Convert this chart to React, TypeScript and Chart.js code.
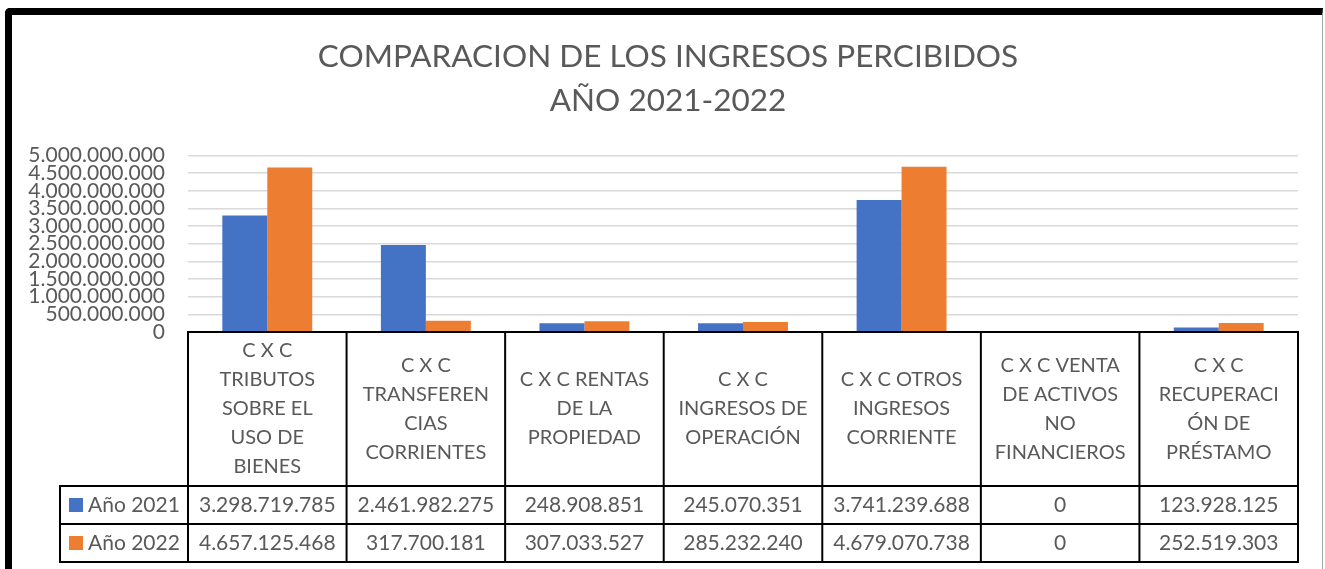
import React, { useEffect, useRef } from 'react';
import { Chart, registerables } from 'chart.js';

Chart.register(...registerables);

const titleLines: string[] = ['COMPARACION DE LOS INGRESOS PERCIBIDOS', 'AÑO 2021-2022'];

const categoryLines: string[][] = [
  ['C X C', 'TRIBUTOS', 'SOBRE EL', 'USO DE', 'BIENES'],
  ['C X C', 'TRANSFEREN', 'CIAS', 'CORRIENTES'],
  ['C X C RENTAS', 'DE LA', 'PROPIEDAD'],
  ['C X C', 'INGRESOS DE', 'OPERACIÓN'],
  ['C X C OTROS', 'INGRESOS', 'CORRIENTE'],
  ['C X C VENTA', 'DE ACTIVOS', 'NO', 'FINANCIEROS'],
  ['C X C', 'RECUPERACI', 'ÓN DE', 'PRÉSTAMO'],
];

const seriesLabels: string[] = ['Año 2021', 'Año 2022'];
const values2021: number[] = [3298719785, 2461982275, 248908851, 245070351, 3741239688, 0, 123928125];
const values2022: number[] = [4657125468, 317700181, 307033527, 285232240, 4679070738, 0, 252519303];
const seriesColors: string[] = ['#4472C4', '#ED7D31'];

const yMin = 0;
const yMax = 5000000000;
const yStep = 500000000;

const TEXT = '#595959';
const FONT = 'Lato, Carlito, Calibri, "Open Sans", sans-serif';

const fmt = (v: number): string => String(Math.round(v)).replace(/\B(?=(\d{3})+(?!\d))/g, '.');

const tablePlugin = {
  id: 'dataTable',
  afterDraw(chart: any) {
    const { ctx, chartArea } = chart;
    const xs = chart.scales.x;
    const n = categoryLines.length;
    const colW = (chartArea.right - chartArea.left) / n;
    const top = chartArea.bottom;
    const headerH = 154;
    const rowH = 38;
    const legendLeft = 60;
    const r1 = top + headerH;
    const r2 = r1 + rowH;
    const r3 = r2 + rowH;

    const line = (x1: number, y1: number, x2: number, y2: number) => {
      ctx.beginPath();
      ctx.moveTo(x1, y1);
      ctx.lineTo(x2, y2);
      ctx.stroke();
    };

    ctx.save();
    ctx.strokeStyle = '#000000';
    ctx.lineWidth = 2;
    ctx.lineCap = 'square';
    line(chartArea.left, top, chartArea.right, top);
    [r1, r2, r3].forEach((y) => line(legendLeft, y, chartArea.right, y));
    for (let i = 0; i <= n; i++) {
      const cx = chartArea.left + i * colW;
      line(cx, top, cx, r3);
    }
    line(legendLeft, r1, legendLeft, r3);

    ctx.fillStyle = TEXT;
    ctx.font = `20px ${FONT}`;
    ctx.textAlign = 'center';
    ctx.textBaseline = 'middle';
    const lh = 29;
    categoryLines.forEach((lines, i) => {
      const cx = xs.getPixelForValue(i);
      const startY = top + headerH / 2 - ((lines.length - 1) * lh) / 2;
      lines.forEach((t, j) => ctx.fillText(t, cx, startY + j * lh));
    });

    ctx.font = `21px ${FONT}`;
    chart.data.datasets.forEach((ds: any, k: number) => {
      const cy = r1 + rowH * k + rowH / 2;
      ctx.textAlign = 'center';
      ctx.fillStyle = TEXT;
      (ds.data as number[]).forEach((v, i) => ctx.fillText(fmt(v), xs.getPixelForValue(i), cy));
      ctx.fillStyle = ds.backgroundColor;
      ctx.fillRect(legendLeft + 9, cy - 7, 14, 14);
      ctx.fillStyle = TEXT;
      ctx.textAlign = 'left';
      ctx.fillText(ds.label, legendLeft + 28, cy);
    });
    ctx.restore();
  },
};

export default function App() {
  const canvasRef = useRef<HTMLCanvasElement | null>(null);

  useEffect(() => {
    document.body.style.margin = '0';
    const canvas = canvasRef.current;
    if (!canvas) return;
    const chart = new Chart(canvas, {
      type: 'bar',
      data: {
        labels: categoryLines.map((l) => l.join(' ')),
        datasets: [
          { label: seriesLabels[0], data: values2021, backgroundColor: seriesColors[0], borderWidth: 0 },
          { label: seriesLabels[1], data: values2022, backgroundColor: seriesColors[1], borderWidth: 0 },
        ],
      },
      options: {
        responsive: false,
        animation: false,
        devicePixelRatio: 1,
        datasets: { bar: { categoryPercentage: 0.567, barPercentage: 1.0 } },
        layout: { padding: { left: 11, right: 0, top: 15, bottom: 237 } },
        plugins: {
          legend: { display: false },
          tooltip: { enabled: false },
          title: {
            display: true,
            text: titleLines,
            color: TEXT,
            font: { family: FONT, size: 31.5, weight: 'normal', lineHeight: 1.42 },
            padding: { top: 19, bottom: 32 },
          },
        },
        scales: {
          x: { display: false },
          y: {
            min: yMin,
            max: yMax,
            border: { display: false },
            grid: { color: '#d9d9d9', lineWidth: 1.5, drawTicks: false },
            ticks: {
              stepSize: yStep,
              autoSkip: false,
              padding: 23,
              color: TEXT,
              font: { family: FONT, size: 21 },
              callback: (v: any) => fmt(Number(v)),
            },
            afterFit: (s: any) => {
              s.width = 177;
            },
          },
          yRight: {
            position: 'right',
            min: yMin,
            max: yMax,
            border: { display: false },
            grid: { display: false },
            ticks: { display: false },
            afterFit: (s: any) => {
              s.width = 27;
            },
          },
        },
      },
      plugins: [tablePlugin],
    });
    return () => chart.destroy();
  }, []);

  return (
    <div style={{ position: 'relative', width: 1325, height: 569, overflow: 'hidden', background: '#ffffff' }}>
      <div
        style={{
          position: 'absolute',
          left: 5,
          top: 8,
          width: 1310,
          height: 600,
          borderLeft: '7px solid #000',
          borderTop: '7px solid #000',
          borderRight: '1px solid #a6a6a6',
          borderTopLeftRadius: 5,
        }}
      />
      <canvas ref={canvasRef} width={1325} height={569} style={{ position: 'absolute', left: 0, top: 0 }} />
    </div>
  );
}
